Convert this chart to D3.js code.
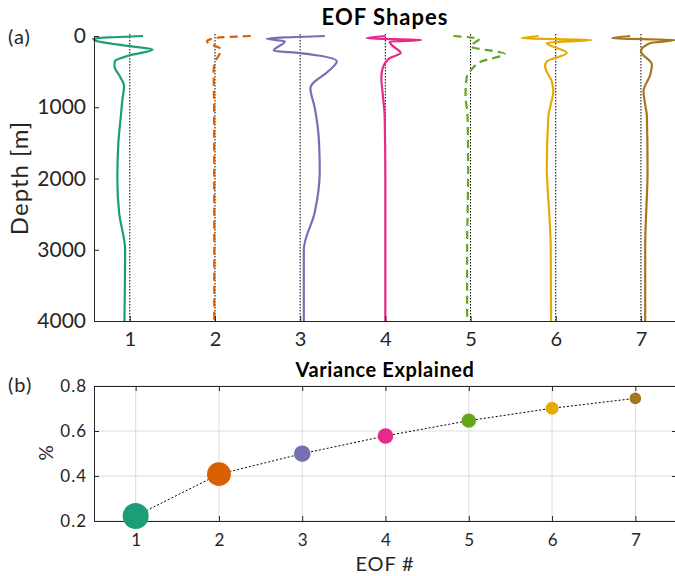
<!DOCTYPE html>
<html>
<head>
<meta charset="utf-8">
<script src="https://cdn.jsdelivr.net/npm/d3@7"></script>
<style>
  body { margin: 0; background: #fff; }
  svg { font-family: Lato, "Open Sans", sans-serif; }
  .axis path, .axis line { stroke: #262626; }
  .axis text { fill: #262626; }
</style>
</head>
<body>
<div id="chart"></div>
<script>
// EOF numbers and colours
var eofIds = [1, 2, 3, 4, 5, 6, 7];
var eofColors = ["#1b9e77", "#d95f02", "#7570b3", "#e7298a", "#66a61e", "#e6ab02", "#a6761d"];
var dashedEofs = [2, 5];

// cumulative variance explained
var varianceExplained = [0.222, 0.408, 0.499, 0.578, 0.646, 0.701, 0.745];

// tick labels
var depthTicks = [0, 1000, 2000, 3000, 4000];
var pctTicks = [0.2, 0.4, 0.6, 0.8];

// EOF shapes: [depth (m), amplitude offset from EOF #]
var eof1 = [[0, 0.156], [40, -0.43], [66, -0.40], [143, 0.0], [190, 0.27], [271, 0.0], [355, -0.176], [425, -0.18],
  [565, -0.117], [705, -0.067], [895, -0.087], [1127, -0.105], [1500, -0.134], [2000, -0.146], [2484, -0.125],
  [3000, -0.055], [4000, -0.063]];
var eof2 = [[0, 0.42], [25, 0.03], [75, -0.094], [190, 0.07], [370, 0.0], [495, -0.016], [1000, -0.01], [4000, -0.008]];
var eof3 = [[0, 0.29], [40, -0.39], [75, -0.18], [206, -0.31], [240, 0.0], [355, 0.43], [495, 0.33], [683, 0.137],
  [730, 0.12], [1000, 0.17], [1460, 0.22], [1900, 0.23], [2480, 0.17], [3000, 0.043], [4000, 0.043]];
var eof4 = [[0, 0.0], [30, -0.22], [55, 0.42], [80, 0.05], [122, 0.07], [240, 0.18], [310, 0.05], [470, -0.035],
  [590, -0.047], [824, -0.03], [1127, -0.008], [2000, 0.0], [4000, 0.0]];
var eof5 = [[0, -0.2], [40, 0.1], [145, 0.0], [253, 0.40], [356, 0.13], [472, 0.01], [590, -0.047], [824, -0.059],
  [1127, -0.035], [1880, -0.028], [3000, -0.04], [4000, -0.04]];
var eof6 = [[0, -0.2], [30, -0.40], [55, 0.42], [98, -0.105], [240, 0.13], [356, -0.105], [425, -0.125], [636, -0.047],
  [776, -0.028], [964, -0.059], [1127, -0.087], [1880, -0.105], [2020, -0.1], [2957, -0.059], [4000, -0.055]];
var eof7 = [[0, -0.126], [30, -0.34], [55, 0.40], [98, 0.11], [215, 0.0], [402, 0.129], [543, 0.11], [776, 0.03],
  [964, 0.05], [1127, 0.07], [1880, 0.078], [2957, 0.05], [4000, 0.05]];
var eofShapes = [eof1, eof2, eof3, eof4, eof5, eof6, eof7];

var svg = d3.select("#chart").append("svg")
    .attr("width", 675)
    .attr("height", 576);

var textColor = "#262626";

// ---------- (a) EOF shapes ----------
var xA = d3.scaleLinear().domain([0.58, 7.4]).range([94, 675]);
var yA = d3.scaleLinear().domain([0, 4000]).range([36, 321]);

var gA = svg.append("g");

// zero reference lines
gA.selectAll(".zero")
    .data(eofIds)
    .enter().append("line")
    .attr("x1", function(d) { return xA(d); })
    .attr("x2", function(d) { return xA(d); })
    .attr("y1", yA(0) - 2)
    .attr("y2", yA(4000))
    .style("stroke", "#000")
    .style("stroke-width", 1)
    .style("stroke-dasharray", "1.5,1.5");

var line = d3.line()
    .x(function(d) { return xA(d[2] + d[1]); })
    .y(function(d) { return yA(d[0]); })
    .curve(d3.curveMonotoneY);

gA.selectAll(".profile")
    .data(eofShapes)
    .enter().append("path")
    .attr("d", function(d, i) {
        return line(d.map(function(p) { return [p[0], p[1], eofIds[i]]; }));
    })
    .style("fill", "none")
    .style("stroke", function(d, i) { return eofColors[i]; })
    .style("stroke-width", 2.2)
    .style("stroke-linejoin", "round")
    .style("stroke-dasharray", function(d, i) {
        return dashedEofs.indexOf(eofIds[i]) >= 0 ? "8,5" : null;
    });

var axAL = gA.append("g")
    .attr("class", "axis")
    .attr("transform", "translate(94,0)")
    .call(d3.axisLeft(yA).tickValues(depthTicks).tickFormat(d3.format("d"))
        .tickSizeInner(-5).tickSizeOuter(0).tickPadding(8));
axAL.selectAll("text").style("font-size", "21px").style("font-family", "Lato");

var axAB = gA.append("g")
    .attr("class", "axis")
    .attr("transform", "translate(0,321)")
    .call(d3.axisBottom(xA).tickValues(eofIds).tickFormat(d3.format("d"))
        .tickSizeInner(-5).tickSizeOuter(0).tickPadding(11));
axAB.selectAll("text").style("font-size", "20px").style("font-family", "Lato");

svg.append("text")
    .attr("transform", "translate(28,178) rotate(-90)")
    .attr("text-anchor", "middle")
    .style("font-size", "24px")
    .style("letter-spacing", "1px")
    .style("fill", textColor)
    .text("Depth [m]");

svg.append("text")
    .attr("x", 385).attr("y", 25)
    .attr("text-anchor", "middle")
    .style("font-size", "22px")
    .style("letter-spacing", "1px")
    .style("font-weight", "bold")
    .style("fill", "#000")
    .text("EOF Shapes");

svg.append("text")
    .attr("x", 8).attr("y", 44)
    .style("font-size", "20px")
    .style("letter-spacing", "1px")
    .style("fill", textColor)
    .text("(a)");

// ---------- (b) variance explained ----------
var xB = d3.scaleLinear().domain([0.5, 7.5]).range([94, 677]);
var yB = d3.scaleLinear().domain([0.2, 0.8]).range([521, 386]);

var gB = svg.append("g");

// grid
gB.selectAll(".gx")
    .data(eofIds)
    .enter().append("line")
    .attr("x1", function(d) { return xB(d); })
    .attr("x2", function(d) { return xB(d); })
    .attr("y1", yB(0.8)).attr("y2", yB(0.2))
    .style("stroke", "#dcdcdc").style("stroke-width", 1);
gB.selectAll(".gy")
    .data(pctTicks)
    .enter().append("line")
    .attr("x1", xB(0.5)).attr("x2", xB(7.5))
    .attr("y1", function(d) { return yB(d); })
    .attr("y2", function(d) { return yB(d); })
    .style("stroke", "#dcdcdc").style("stroke-width", 1);

// box with inward ticks
var axBL = gB.append("g").attr("class", "axis").attr("transform", "translate(94,0)")
    .call(d3.axisLeft(yB).tickValues(pctTicks).tickFormat(d3.format(".1f")).tickSizeInner(-5).tickSizeOuter(0).tickPadding(7));
var axBR = gB.append("g").attr("class", "axis").attr("transform", "translate(677,0)")
    .call(d3.axisRight(yB).tickValues(pctTicks).tickFormat("").tickSizeInner(-5).tickSizeOuter(0));
var axBB = gB.append("g").attr("class", "axis").attr("transform", "translate(0,521)")
    .call(d3.axisBottom(xB).tickValues(eofIds).tickFormat(d3.format("d")).tickSizeInner(-5).tickSizeOuter(0).tickPadding(13));
var axBT = gB.append("g").attr("class", "axis").attr("transform", "translate(0,386)")
    .call(d3.axisTop(xB).tickValues(eofIds).tickFormat("").tickSizeInner(-5).tickSizeOuter(0));
axBL.selectAll("text").style("font-size", "17px").style("letter-spacing", "1px").style("font-family", "Lato");
axBB.selectAll("text").style("font-size", "17px").style("font-family", "Lato");

// connecting dotted line
var vline = d3.line()
    .x(function(d, i) { return xB(eofIds[i]); })
    .y(function(d) { return yB(d); });
gB.append("path")
    .attr("d", vline(varianceExplained))
    .style("fill", "none")
    .style("stroke", "#000")
    .style("stroke-width", 1)
    .style("stroke-dasharray", "2,2");

// marker size from variance of each mode
var increments = varianceExplained.map(function(v, i) { return i === 0 ? v : v - varianceExplained[i - 1]; });
var rScale = d3.scaleSqrt().domain([0, d3.max(increments)]).range([0, 13]);

gB.selectAll(".dot")
    .data(varianceExplained)
    .enter().append("circle")
    .attr("cx", function(d, i) { return xB(eofIds[i]); })
    .attr("cy", function(d) { return yB(d); })
    .attr("r", function(d, i) { return rScale(increments[i]); })
    .style("fill", function(d, i) { return eofColors[i]; });

svg.append("text")
    .attr("x", 385).attr("y", 377)
    .attr("text-anchor", "middle")
    .style("font-size", "20px")
    .style("letter-spacing", "0.6px")
    .style("font-weight", "bold")
    .style("fill", "#000")
    .text("Variance Explained");

svg.append("text")
    .attr("transform", "translate(53,453) rotate(-90)")
    .attr("text-anchor", "middle")
    .style("font-size", "19px")
    .style("fill", textColor)
    .text("%");

svg.append("text")
    .attr("x", 385).attr("y", 571)
    .attr("text-anchor", "middle")
    .style("font-size", "20px")
    .style("letter-spacing", "0.8px")
    .style("fill", textColor)
    .text("EOF #");

svg.append("text")
    .attr("x", 8).attr("y", 392)
    .style("font-size", "20px")
    .style("letter-spacing", "1px")
    .style("fill", textColor)
    .text("(b)");
</script>
</body>
</html>
